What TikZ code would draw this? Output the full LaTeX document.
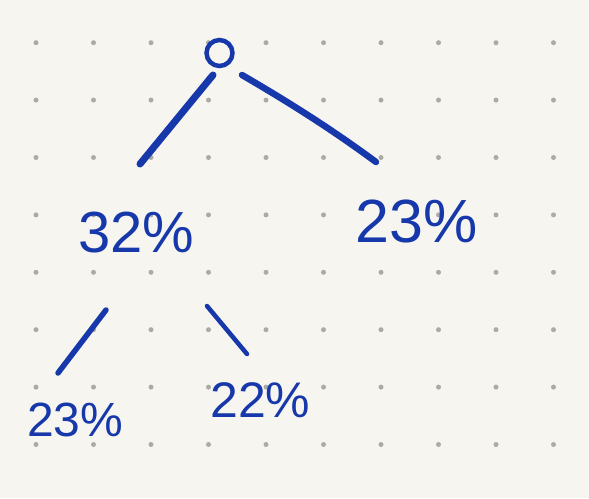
\documentclass[tikz,border=0pt]{standalone}
\usepackage{fontspec}
\setmainfont{Liberation Sans}
\definecolor{paper}{RGB}{247,245,240}
\definecolor{dotgrey}{RGB}{172,170,164}
\definecolor{ink}{RGB}{22,56,170}
\begin{document}
\begin{tikzpicture}[x=1pt,y=-1pt,
  edge/.style={draw=ink, line cap=round},
  lbl/.style={text=ink, inner sep=0pt, anchor=base west}]
\fill[paper] (0,0) rectangle (589,498);
\useasboundingbox (0,0) rectangle (589,498);
\foreach \i in {0,...,9}
  \foreach \j in {0,...,7}
    \fill[dotgrey] (36+57.5*\i, 42.7+57.4*\j) circle (2.5pt);
% nodes
\node[circle, draw=ink, line width=4.5pt, minimum size=26pt, inner sep=0pt] (root) at (219.5,53) {};
\node[lbl, font=\fontsize{58}{60}\selectfont] (a) at (78,252) {32\%};
\node[lbl, font=\fontsize{61}{63}\selectfont] (b) at (355,242) {23\%};
\node[lbl, font=\fontsize{48}{50}\selectfont] (c) at (27,436) {23\%};
\node[lbl, font=\fontsize{50}{52}\selectfont] (d) at (210,417) {22\%};
% connector ends
\coordinate (ra) at (213,75);
\coordinate (ab) at (140,164);
\coordinate (rb) at (242,75);
\coordinate (bb) at (376,162);
\coordinate (ac) at (106,310);
\coordinate (cc) at (58,373);
\coordinate (ad) at (207,306);
\coordinate (dd) at (247,354);
% connectors
\draw[edge, line width=7pt] (ra) -- (ab);
\draw[edge, line width=6.5pt] (rb) .. controls (285,100) and (330,128) .. (bb);
\draw[edge, line width=5.5pt] (ac) -- (cc);
\draw[edge, line width=4.5pt] (ad) -- (dd);
\end{tikzpicture}
\end{document}
